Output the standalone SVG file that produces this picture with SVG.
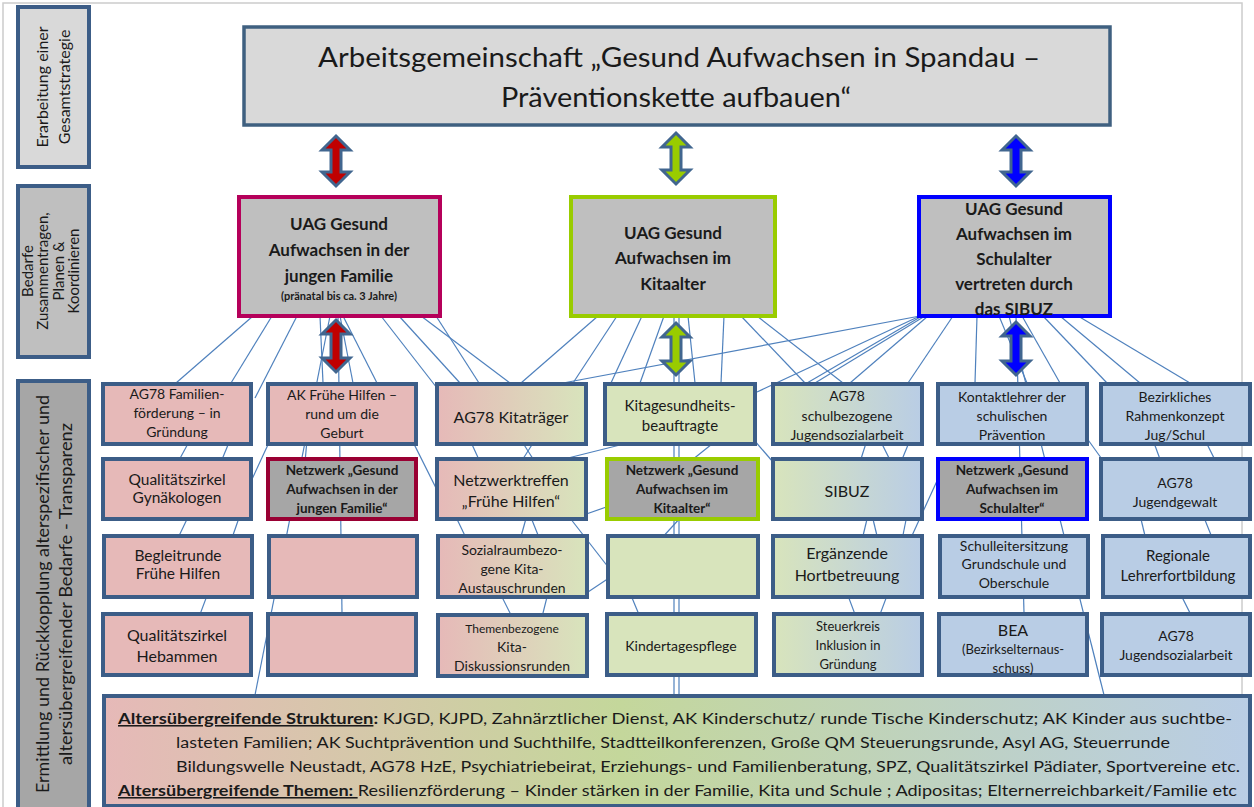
<svg xmlns="http://www.w3.org/2000/svg" width="1254" height="807" viewBox="0 0 1254 807">
<defs>
<style>
.t{font-family:Lato,"Liberation Sans",sans-serif;fill:#1a1a1a;text-anchor:middle}
.b{font-weight:bold}
.box{stroke:#3c5d87;stroke-width:4}
.side{stroke:#3c5d87;stroke-width:4}
.pink{fill:#e6b9b8}
.green{fill:#d8e4bc}
.blue{fill:#b9cde5}
.net{fill:#a6a6a6;stroke-width:4}
.uag{fill:#bfbfbf;stroke-width:4}
.arr{stroke:#41668f;stroke-width:3;stroke-linejoin:miter}
#connectors line{stroke:#4f81bd;stroke-width:1.2}
</style>
<linearGradient id="gPG" x1="0" y1="0" x2="1" y2="0"><stop offset="0" stop-color="#e6b9b8"/><stop offset="1" stop-color="#d8e4bc"/></linearGradient>
<linearGradient id="gGB" x1="0" y1="0" x2="1" y2="0"><stop offset="0" stop-color="#d8e4bc"/><stop offset="1" stop-color="#b9cde5"/></linearGradient>
<linearGradient id="gBot" x1="0" y1="0" x2="1" y2="0"><stop offset="0" stop-color="#e6b9b8"/><stop offset="0.45" stop-color="#c4d79b"/><stop offset="1" stop-color="#b9cde5"/></linearGradient>
</defs>
<rect x="0" y="0" width="1254" height="807" fill="#ffffff"/>
<rect x="3" y="3" width="1239" height="810" fill="none" stroke="#cccccc" stroke-width="1.5"/>

<!-- side labels -->
<g id="side1">
<rect class="side" x="18" y="7" width="71" height="160" fill="#d9d9d9"/>
<text class="t" font-size="16" transform="translate(48,87) rotate(-90)">Erarbeitung einer</text>
<text class="t" font-size="16" transform="translate(70,87) rotate(-90)">Gesamtstrategie</text>
</g>
<g id="side2">
<rect class="side" x="18" y="186" width="71" height="171" fill="#bfbfbf"/>
<text class="t" font-size="15" transform="translate(33,271) rotate(-90)">Bedarfe</text>
<text class="t" font-size="15" transform="translate(48,271) rotate(-90)">Zusammentragen,</text>
<text class="t" font-size="15" transform="translate(64,271) rotate(-90)">Planen &amp;</text>
<text class="t" font-size="15" transform="translate(79,271) rotate(-90)">Koordinieren</text>
</g>
<g id="side3">
<rect class="side" x="18" y="381" width="71" height="430" fill="#a6a6a6"/>
<text class="t" font-size="18" textLength="398" lengthAdjust="spacingAndGlyphs" transform="translate(49,594) rotate(-90)">Ermittlung und Rückkopplung alterspezifischer und</text>
<text class="t" font-size="18" textLength="342" lengthAdjust="spacingAndGlyphs" transform="translate(72,594) rotate(-90)">altersübergreifender Bedarfe - Transparenz</text>
</g>

<!-- connectors -->
<g id="connectors">
<line x1="253" y1="316" x2="176" y2="383"/>
<line x1="272" y1="316" x2="231" y2="383"/>
<line x1="297" y1="316" x2="255" y2="398"/>
<line x1="320" y1="316" x2="323" y2="383"/>
<line x1="340" y1="316" x2="353" y2="383"/>
<line x1="343" y1="316" x2="377" y2="383"/>
<line x1="330" y1="316" x2="255" y2="695"/>
<line x1="338" y1="316" x2="342" y2="613"/>
<line x1="381" y1="316" x2="437" y2="388"/>
<line x1="399" y1="316" x2="460" y2="383"/>
<line x1="421" y1="316" x2="510" y2="383"/>
<line x1="436" y1="316" x2="479" y2="383"/>
<line x1="598" y1="316" x2="521" y2="383"/>
<line x1="617" y1="316" x2="573" y2="383"/>
<line x1="642" y1="316" x2="604" y2="398"/>
<line x1="664" y1="316" x2="640" y2="383"/>
<line x1="674" y1="316" x2="674" y2="695"/>
<line x1="679" y1="316" x2="679" y2="695"/>
<line x1="688" y1="316" x2="695" y2="383"/>
<line x1="724" y1="316" x2="721" y2="383"/>
<line x1="741" y1="316" x2="805" y2="383"/>
<line x1="757" y1="316" x2="843" y2="383"/>
<line x1="920" y1="316" x2="563" y2="383"/>
<line x1="920" y1="316" x2="757" y2="392"/>
<line x1="922" y1="316" x2="807" y2="383"/>
<line x1="925" y1="316" x2="815" y2="383"/>
<line x1="928" y1="316" x2="850" y2="383"/>
<line x1="953" y1="316" x2="908" y2="383"/>
<line x1="977" y1="316" x2="975" y2="383"/>
<line x1="999" y1="316" x2="1027" y2="383"/>
<line x1="1009" y1="316" x2="1104" y2="695"/>
<line x1="1016" y1="316" x2="1024" y2="613"/>
<line x1="1022" y1="316" x2="1060" y2="383"/>
<line x1="1043" y1="316" x2="1107" y2="383"/>
<line x1="1060" y1="316" x2="1140" y2="383"/>
<line x1="1078" y1="316" x2="1190" y2="383"/>
<line x1="190" y1="440" x2="178" y2="462"/>
<line x1="230" y1="440" x2="221" y2="462"/>
<line x1="189" y1="515" x2="178" y2="538"/>
<line x1="240" y1="515" x2="232" y2="538"/>
<line x1="208" y1="593" x2="199" y2="617"/>
<line x1="247" y1="490" x2="272" y2="436"/>
<line x1="307" y1="440" x2="305" y2="462"/>
<line x1="412" y1="440" x2="437" y2="490"/>
<line x1="470" y1="440" x2="480" y2="462"/>
<line x1="521" y1="440" x2="535" y2="462"/>
<line x1="535" y1="440" x2="521" y2="462"/>
<line x1="455" y1="515" x2="467" y2="540"/>
<line x1="527" y1="515" x2="520" y2="540"/>
<line x1="530" y1="515" x2="540" y2="540"/>
<line x1="500" y1="593" x2="512" y2="617"/>
<line x1="548" y1="593" x2="542" y2="617"/>
<line x1="560" y1="460" x2="620" y2="445"/>
<line x1="575" y1="518" x2="612" y2="505"/>
<line x1="570" y1="518" x2="612" y2="572"/>
<line x1="582" y1="596" x2="612" y2="576"/>
<line x1="630" y1="593" x2="640" y2="617"/>
<line x1="660" y1="540" x2="682" y2="516"/>
<line x1="692" y1="460" x2="712" y2="444"/>
<line x1="754" y1="440" x2="773" y2="462"/>
<line x1="867" y1="440" x2="860" y2="462"/>
<line x1="880" y1="440" x2="891" y2="462"/>
<line x1="910" y1="440" x2="901" y2="462"/>
<line x1="868" y1="515" x2="862" y2="540"/>
<line x1="872" y1="515" x2="878" y2="540"/>
<line x1="907" y1="515" x2="902" y2="540"/>
<line x1="847" y1="593" x2="856" y2="617"/>
<line x1="888" y1="593" x2="879" y2="617"/>
<line x1="910" y1="540" x2="942" y2="470"/>
<line x1="1086" y1="437" x2="1104" y2="462"/>
<line x1="1153" y1="440" x2="1161" y2="462"/>
<line x1="1205" y1="440" x2="1216" y2="462"/>
<line x1="1140" y1="515" x2="1146" y2="540"/>
<line x1="1203" y1="515" x2="1213" y2="540"/>
<line x1="1180" y1="593" x2="1192" y2="617"/>
</g>

<!-- arrows -->
<g id="arrows">
<polygon class="arr" fill="#c00000" points="336,136 350,150 341,150 341,172 350,172 336,186 322,172 331,172 331,150 322,150"/>
<polygon class="arr" fill="#99cc00" points="676,133 690,147 681,147 681,170 690,170 676,184 662,170 671,170 671,147 662,147"/>
<polygon class="arr" fill="#0000ff" points="1016,136 1030,150 1021,150 1021,172 1030,172 1016,186 1002,172 1011,172 1011,150 1002,150"/>
<polygon class="arr" fill="#c00000" points="336,320 350,334 341,334 341,358 350,358 336,372 322,358 331,358 331,334 322,334"/>
<polygon class="arr" fill="#99cc00" points="676,323 690,337 681,337 681,361 690,361 676,375 662,361 671,361 671,337 662,337"/>
<polygon class="arr" fill="#0000ff" points="1016,322 1030,336 1021,336 1021,361 1030,361 1016,375 1002,361 1011,361 1011,336 1002,336"/>
</g>

<!-- title -->
<g id="title">
<rect x="244" y="27" width="866" height="98" fill="#d9d9d9" stroke="#3f6080" stroke-width="3.5"/>
<text class="t" font-size="27" x="679" y="67" textLength="722" lengthAdjust="spacingAndGlyphs">Arbeitsgemeinschaft „Gesund Aufwachsen in Spandau –</text>
<text class="t" font-size="27" x="676" y="107" textLength="350" lengthAdjust="spacingAndGlyphs">Präventionskette aufbauen“</text>
</g>

<!-- UAG boxes -->
<g id="uag1">
<rect class="uag" x="239" y="197" width="201" height="119" stroke="#b5005a"/>
<text class="t b" font-size="17" x="339" y="230">UAG Gesund</text>
<text class="t b" font-size="17" x="339" y="256">Aufwachsen in der</text>
<text class="t b" font-size="17" x="339" y="282">jungen Familie</text>
<text class="t b" font-size="11" x="339" y="300">(pränatal bis ca. 3 Jahre)</text>
</g>
<g id="uag2">
<rect class="uag" x="571" y="197" width="204" height="119" stroke="#99cc00"/>
<text class="t b" font-size="17" x="673" y="239">UAG Gesund</text>
<text class="t b" font-size="17" x="673" y="264">Aufwachsen im</text>
<text class="t b" font-size="17" x="673" y="290">Kitaalter</text>
</g>
<g id="uag3">
<rect class="uag" x="919" y="197" width="191" height="119" stroke="#0000ff"/>
<text class="t b" font-size="17" x="1014" y="215">UAG Gesund</text>
<text class="t b" font-size="17" x="1014" y="240">Aufwachsen im</text>
<text class="t b" font-size="17" x="1014" y="265">Schulalter</text>
<text class="t b" font-size="17" x="1014" y="290">vertreten durch</text>
<text class="t b" font-size="17" x="1014" y="315">das SIBUZ</text>
</g>

<!-- grid row 1 -->
<g id="r1c1"><rect class="box pink" x="103" y="384" width="148" height="60"/>
<text class="t" font-size="14" x="177" y="399">AG78 Familien-</text><text class="t" font-size="14" x="177" y="418">förderung – in</text><text class="t" font-size="14" x="177" y="437">Gründung</text></g>
<g id="r1c2"><rect class="box pink" x="268" y="384" width="148" height="60"/>
<text class="t" font-size="14" x="342" y="400">AK Frühe Hilfen –</text><text class="t" font-size="14" x="342" y="419">rund um die</text><text class="t" font-size="14" x="342" y="438">Geburt</text></g>
<g id="r1c3"><rect class="box" fill="url(#gPG)" x="437" y="384" width="149" height="60"/>
<text class="t" font-size="16" x="511" y="423">AG78 Kitaträger</text></g>
<g id="r1c4"><rect class="box green" x="605" y="384" width="150" height="60"/>
<text class="t" font-size="15" x="680" y="411">Kitagesundheits-</text><text class="t" font-size="15" x="680" y="431">beauftragte</text></g>
<g id="r1c5"><rect class="box" fill="url(#gGB)" x="773" y="384" width="149" height="60"/>
<text class="t" font-size="14" x="847" y="401">AG78</text><text class="t" font-size="14" x="847" y="421">schulbezogene</text><text class="t" font-size="14" x="847" y="440">Jugendsozialarbeit</text></g>
<g id="r1c6"><rect class="box blue" x="938" y="384" width="149" height="60"/>
<text class="t" font-size="14" x="1012" y="402">Kontaktlehrer der</text><text class="t" font-size="14" x="1012" y="421">schulischen</text><text class="t" font-size="14" x="1012" y="440">Prävention</text></g>
<g id="r1c7"><rect class="box blue" x="1101" y="384" width="149" height="60"/>
<text class="t" font-size="14" x="1175" y="402">Bezirkliches</text><text class="t" font-size="14" x="1175" y="421">Rahmenkonzept</text><text class="t" font-size="14" x="1175" y="440">Jug/Schul</text></g>

<!-- grid row 2 -->
<g id="r2c1"><rect class="box pink" x="103" y="459" width="148" height="60"/>
<text class="t" font-size="15.5" x="177" y="485">Qualitätszirkel</text><text class="t" font-size="15.5" x="177" y="503">Gynäkologen</text></g>
<g id="r2c2"><rect class="net" x="268" y="459" width="148" height="60" stroke="#990033"/>
<text class="t b" font-size="13.5" x="342" y="475">Netzwerk „Gesund</text><text class="t b" font-size="13.5" x="342" y="494">Aufwachsen in der</text><text class="t b" font-size="13.5" x="342" y="513">jungen Familie“</text></g>
<g id="r2c3"><rect class="box" fill="url(#gPG)" x="437" y="459" width="149" height="60"/>
<text class="t" font-size="16" x="511" y="486">Netzwerktreffen</text><text class="t" font-size="16" x="511" y="507">„Frühe Hilfen“</text></g>
<g id="r2c4"><rect class="net" x="607" y="459" width="151" height="60" stroke="#99cc00"/>
<text class="t b" font-size="13.5" x="682" y="475">Netzwerk „Gesund</text><text class="t b" font-size="13.5" x="682" y="494">Aufwachsen im</text><text class="t b" font-size="13.5" x="682" y="513">Kitaalter“</text></g>
<g id="r2c5"><rect class="box" fill="url(#gGB)" x="773" y="459" width="149" height="60"/>
<text class="t" font-size="16" x="847" y="497">SIBUZ</text></g>
<g id="r2c6"><rect class="net" x="938" y="459" width="149" height="60" stroke="#0000ff"/>
<text class="t b" font-size="13.5" x="1012" y="475">Netzwerk „Gesund</text><text class="t b" font-size="13.5" x="1012" y="494">Aufwachsen im</text><text class="t b" font-size="13.5" x="1012" y="513">Schulalter“</text></g>
<g id="r2c7"><rect class="box blue" x="1101" y="459" width="149" height="60"/>
<text class="t" font-size="14" x="1175" y="488">AG78</text><text class="t" font-size="14" x="1175" y="507">Jugendgewalt</text></g>

<!-- grid row 3 -->
<g id="r3c1"><rect class="box pink" x="104" y="536" width="148" height="61"/>
<text class="t" font-size="15.5" x="178" y="561">Begleitrunde</text><text class="t" font-size="15.5" x="178" y="579">Frühe Hilfen</text></g>
<g id="r3c2"><rect class="box pink" x="269" y="536" width="148" height="61"/></g>
<g id="r3c3"><rect class="box" fill="url(#gPG)" x="438" y="536" width="149" height="61"/>
<text class="t" font-size="14" x="512" y="555">Sozialraumbezo-</text><text class="t" font-size="14" x="512" y="574">gene Kita-</text><text class="t" font-size="14" x="512" y="593">Austauschrunden</text></g>
<g id="r3c4"><rect class="box green" x="608" y="536" width="150" height="61"/></g>
<g id="r3c5"><rect class="box" fill="url(#gGB)" x="773" y="536" width="149" height="61"/>
<text class="t" font-size="16" x="847" y="559">Ergänzende</text><text class="t" font-size="16" x="847" y="581">Hortbetreuung</text></g>
<g id="r3c6"><rect class="box blue" x="940" y="536" width="148" height="61"/>
<text class="t" font-size="14" x="1014" y="551">Schulleitersitzung</text><text class="t" font-size="14" x="1014" y="569">Grundschule und</text><text class="t" font-size="14" x="1014" y="588">Oberschule</text></g>
<g id="r3c7"><rect class="box blue" x="1103" y="536" width="147" height="61"/>
<text class="t" font-size="15" x="1178" y="561">Regionale</text><text class="t" font-size="15" x="1178" y="581">Lehrerfortbildung</text></g>

<!-- grid row 4 -->
<g id="r4c1"><rect class="box pink" x="103" y="614" width="148" height="61"/>
<text class="t" font-size="16" x="177" y="641">Qualitätszirkel</text><text class="t" font-size="16" x="177" y="662">Hebammen</text></g>
<g id="r4c2"><rect class="box pink" x="268" y="614" width="148" height="61"/></g>
<g id="r4c3"><rect class="box" fill="url(#gPG)" x="438" y="615" width="149" height="61"/>
<text class="t" font-size="12" x="512" y="633">Themenbezogene</text><text class="t" font-size="14" x="512" y="652">Kita-</text><text class="t" font-size="14" x="512" y="671">Diskussionsrunden</text></g>
<g id="r4c4"><rect class="box green" x="607" y="614" width="149" height="61"/>
<text class="t" font-size="14" x="681" y="651">Kindertagespflege</text></g>
<g id="r4c5"><rect class="box" fill="url(#gGB)" x="774" y="614" width="148" height="61"/>
<text class="t" font-size="13" x="848" y="631">Steuerkreis</text><text class="t" font-size="13" x="848" y="650">Inklusion in</text><text class="t" font-size="13" x="848" y="669">Gründung</text></g>
<g id="r4c6"><rect class="box blue" x="939" y="614" width="148" height="61"/>
<text class="t" font-size="16" x="1013" y="636">BEA</text><text class="t" font-size="13" x="1013" y="654">(Bezirkselternaus-</text><text class="t" font-size="13" x="1013" y="673">schuss)</text></g>
<g id="r4c7"><rect class="box blue" x="1102" y="614" width="148" height="61"/>
<text class="t" font-size="14" x="1176" y="641">AG78</text><text class="t" font-size="14" x="1176" y="660">Jugendsozialarbeit</text></g>

<!-- bottom box -->
<g id="bottom">
<rect class="box" fill="url(#gBot)" x="104" y="696" width="1146" height="110"/>
<text font-family="Lato,'Liberation Sans',sans-serif" font-size="15.5" fill="#1a1a1a" x="118" y="724" textLength="1114" lengthAdjust="spacingAndGlyphs"><tspan font-weight="bold" text-decoration="underline">Altersübergreifende Strukturen</tspan><tspan font-weight="bold">:</tspan> KJGD, KJPD, Zahnärztlicher Dienst, AK Kinderschutz/ runde Tische Kinderschutz; AK Kinder aus suchtbe-</text>
<text font-family="Lato,'Liberation Sans',sans-serif" font-size="15.5" fill="#1a1a1a" x="176" y="748" textLength="994" lengthAdjust="spacingAndGlyphs">lasteten Familien; AK Suchtprävention und Suchthilfe, Stadtteilkonferenzen, Große QM Steuerungsrunde, Asyl AG, Steuerrunde</text>
<text font-family="Lato,'Liberation Sans',sans-serif" font-size="15.5" fill="#1a1a1a" x="176" y="772" textLength="1064" lengthAdjust="spacingAndGlyphs">Bildungswelle Neustadt, AG78 HzE, Psychiatriebeirat, Erziehungs- und Familienberatung, SPZ, Qualitätszirkel Pädiater, Sportvereine etc.</text>
<text font-family="Lato,'Liberation Sans',sans-serif" font-size="15.5" fill="#1a1a1a" x="118" y="796" textLength="1119" lengthAdjust="spacingAndGlyphs"><tspan font-weight="bold" text-decoration="underline">Altersübergreifende Themen: </tspan>Resilienzförderung – Kinder stärken in der Familie, Kita und Schule ; Adipositas; Elternerreichbarkeit/Familie etc</text>
</g>
</svg>
